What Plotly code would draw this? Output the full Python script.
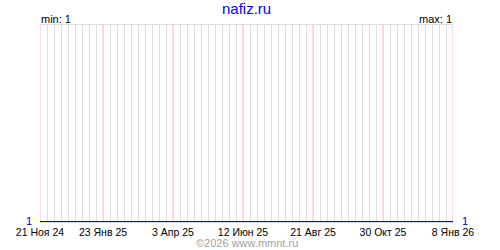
import plotly.graph_objects as go

# data
dates = ["2024-11-21", "2026-01-08"]
values = [1, 1]
tick_dates = ["2024-11-21", "2025-01-23", "2025-04-03", "2025-06-12",
              "2025-08-21", "2025-10-30", "2026-01-08"]
tick_labels = ["21 Ноя 24", "23 Янв 25", "3 Апр 25", "12 Июн 25",
               "21 Авг 25", "30 Окт 25", "8 Янв 26"]
title_text = "nafiz.ru"
min_text = "min: 1"
max_text = "max: 1"
copyright_text = "©2026 www.mmnt.ru"

FONT = "Liberation Sans"

fig = go.Figure()
fig.add_trace(go.Scatter(x=dates, y=values, mode="lines",
                         line=dict(color="#0000cc", width=2),
                         hoverinfo="skip", cliponaxis=False))

# pink grid lines at labelled dates, positioned via the x axis scale
for d in tick_dates:
    fig.add_shape(type="line", xref="x", yref="paper", x0=d, x1=d, y0=0, y1=1,
                  line=dict(color="#ffc0c0", width=1), layer="below")

fig.update_layout(
    width=500, height=250,
    margin=dict(l=40, r=47, t=25, b=25),
    paper_bgcolor="white", plot_bgcolor="white",
    showlegend=False,
    font=dict(family=FONT, size=11, color="black"),
    xaxis=dict(
        type="date",
        range=[dates[0], dates[-1]],
        tickmode="array", tickvals=tick_dates, ticktext=tick_labels,
        showgrid=False,
        ticks="", ticklen=0,
        tickfont=dict(family=FONT, size=10.5, color="black"),
        showline=True, linecolor="#dddddd", linewidth=1, mirror=True,
        zeroline=False,
        minor=dict(dtick=7 * 86400000, tick0=dates[0], showgrid=True,
                   gridcolor="#dddddd", gridwidth=1, ticks=""),
        fixedrange=True,
    ),
    yaxis=dict(
        range=[1, 2],
        showgrid=False, zeroline=False, showticklabels=False, ticks="",
        showline=False, fixedrange=True,
    ),
    annotations=[
        dict(text=title_text, xref="paper", yref="paper", x=0.5, y=1,
             xanchor="center", yanchor="middle", yshift=17, showarrow=False,
             font=dict(family=FONT, size=15, color="#0000ff")),
        dict(text=min_text, xref="paper", yref="paper", x=0, y=1,
             xanchor="left", yanchor="middle", xshift=-1, yshift=6,
             showarrow=False, font=dict(family=FONT, size=11, color="black")),
        dict(text=max_text, xref="paper", yref="paper", x=1, y=1,
             xanchor="right", yanchor="middle", xshift=1, yshift=6,
             showarrow=False, font=dict(family=FONT, size=11, color="black")),
        dict(text=str(values[0]), xref="paper", yref="y", x=0, y=values[0],
             xanchor="right", yanchor="middle", xshift=-6, yshift=1,
             showarrow=False,
             font=dict(family=FONT, size=11, color="#0000cc")),
        dict(text=str(values[-1]), xref="paper", yref="y", x=1, y=values[-1],
             xanchor="left", yanchor="middle", xshift=7, yshift=1,
             showarrow=False,
             font=dict(family=FONT, size=11, color="#0000cc")),
        dict(text=copyright_text, xref="paper", yref="paper", x=0.5, y=0,
             xanchor="center", yanchor="top", yshift=-13, showarrow=False,
             font=dict(family=FONT, size=11, color="#a0a0a0")),
    ],
)

fig.write_html("out.html")
